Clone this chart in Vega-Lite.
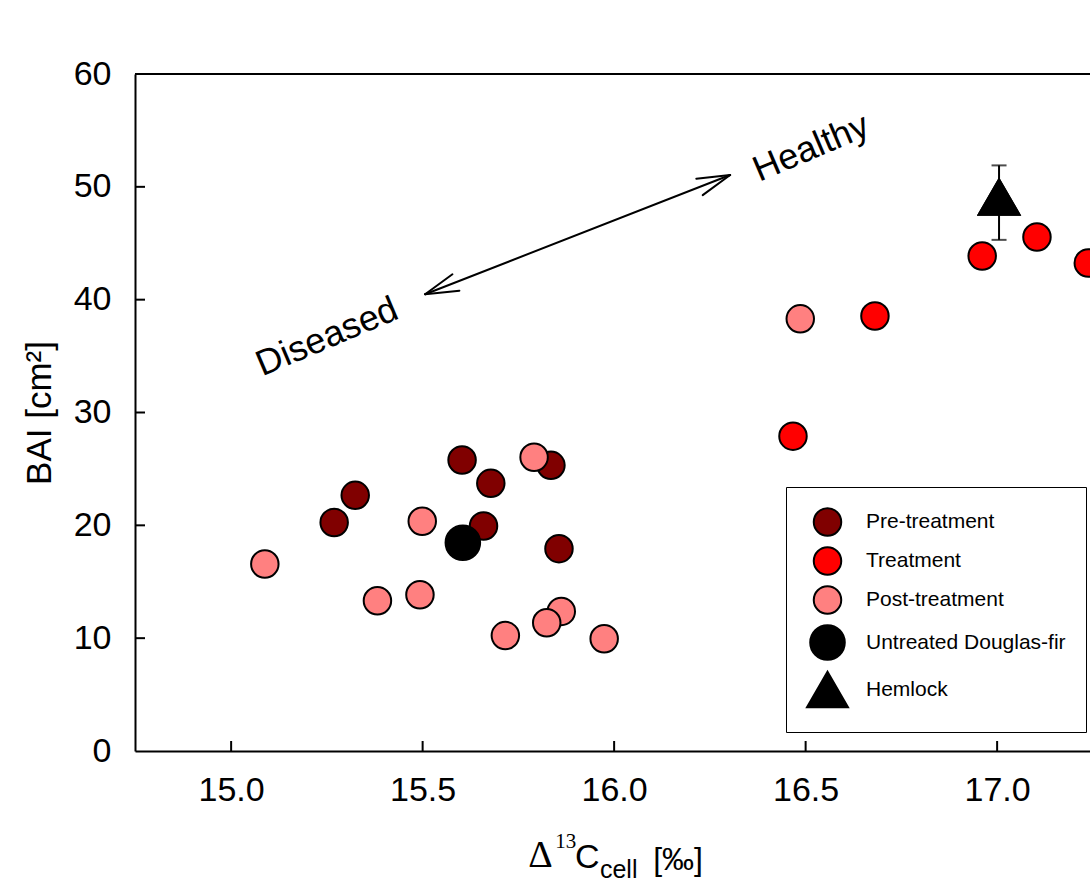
{
  "$schema": "https://vega.github.io/schema/vega-lite/v6.json",
  "autosize": {"type": "none"},
  "padding": {"left": 135, "top": 74, "right": 0, "bottom": 131},
  "width": 955,
  "height": 677,
  "background": "white",
  "config": {
    "view": {"stroke": null},
    "font": "Liberation Sans",
    "axis": {
      "grid": false,
      "ticks": false,
      "domainColor": "black",
      "domainWidth": 2,
      "labelFont": "Liberation Sans",
      "labelFontSize": 34,
      "labelColor": "black",
      "titleFont": "Liberation Sans",
      "titleFontWeight": "normal",
      "titleColor": "black"
    }
  },
  "datasets": {
    "trees": [
      {"group": "Pre-treatment", "x": 15.269, "y": 20.25},
      {"group": "Pre-treatment", "x": 15.324, "y": 22.66},
      {"group": "Pre-treatment", "x": 15.603, "y": 25.79},
      {"group": "Pre-treatment", "x": 15.678, "y": 23.72},
      {"group": "Pre-treatment", "x": 15.659, "y": 19.94},
      {"group": "Pre-treatment", "x": 15.835, "y": 25.32},
      {"group": "Pre-treatment", "x": 15.856, "y": 17.93},
      {"group": "Treatment", "x": 16.467, "y": 27.9},
      {"group": "Treatment", "x": 16.681, "y": 38.55},
      {"group": "Treatment", "x": 16.961, "y": 43.87},
      {"group": "Treatment", "x": 17.104, "y": 45.55},
      {"group": "Treatment", "x": 17.238, "y": 43.25},
      {"group": "Post-treatment", "x": 15.088, "y": 16.57},
      {"group": "Post-treatment", "x": 15.499, "y": 20.36},
      {"group": "Post-treatment", "x": 15.382, "y": 13.32},
      {"group": "Post-treatment", "x": 15.493, "y": 13.85},
      {"group": "Post-treatment", "x": 15.791, "y": 26.03},
      {"group": "Post-treatment", "x": 15.862, "y": 12.37},
      {"group": "Post-treatment", "x": 15.824, "y": 11.37},
      {"group": "Post-treatment", "x": 15.716, "y": 10.23},
      {"group": "Post-treatment", "x": 15.974, "y": 9.95},
      {"group": "Post-treatment", "x": 16.486, "y": 38.3},
      {"group": "Untreated Douglas-fir", "x": 15.605, "y": 18.46},
      {"group": "Hemlock", "x": 17.005, "y": 49.1}
    ],
    "hemlockError": [
      {"x": 17.005, "y": 45.3, "hi": 51.9}
    ],
    "arrow": [
      {"part": "shaft", "x": 15.5065, "y": 40.48, "x2": 16.3029, "y2": 51.05},
      {"part": "head", "x": 15.5065, "y": 40.48, "x2": 15.5778, "y2": 42.25},
      {"part": "head", "x": 15.5065, "y": 40.48, "x2": 15.596, "y2": 40.8},
      {"part": "head", "x": 16.3029, "y": 51.05, "x2": 16.2313, "y2": 49.27},
      {"part": "head", "x": 16.3029, "y": 51.05, "x2": 16.2146, "y2": 50.72}
    ],
    "notes": [
      {"label": "Diseased", "x": 15.2507, "y": 36.69},
      {"label": "Healthy", "x": 16.5144, "y": 53.44}
    ],
    "xTicks": [{"x": 15.0}, {"x": 15.5}, {"x": 16.0}, {"x": 16.5}, {"x": 17.0}],
    "yTicks": [{"y": 10}, {"y": 20}, {"y": 30}, {"y": 40}, {"y": 50}]
  },
  "layer": [
    {
      "data": {"name": "trees"},
      "mark": {"type": "point", "filled": true, "stroke": "black", "strokeWidth": 2, "opacity": 1},
      "encoding": {
        "x": {
          "field": "x", "type": "quantitative",
          "scale": {"domain": [14.749, 17.2425], "nice": false, "zero": false},
          "axis": {"values": [15, 15.5, 16, 16.5, 17], "format": ".1f", "labelPadding": 22, "title": null}
        },
        "y": {
          "field": "y", "type": "quantitative",
          "scale": {"domain": [0, 60], "nice": false, "zero": true},
          "axis": {"values": [0, 10, 20, 30, 40, 50, 60], "labelPadding": 24, "title": "BAI [cm²]", "titleFontSize": 35, "titlePadding": 16}
        },
        "fill": {
          "field": "group", "type": "nominal",
          "scale": {
            "domain": ["Pre-treatment", "Treatment", "Post-treatment", "Untreated Douglas-fir", "Hemlock"],
            "range": ["#800000", "#ff0000", "#ff8080", "#000000", "#000000"]
          },
          "legend": {
            "title": null,
            "orient": "none",
            "legendX": 651,
            "legendY": 413,
            "padding": 20,
            "strokeColor": "black",
            "fillColor": "white",
            "labelFont": "Liberation Sans",
            "labelFontSize": 21,
            "labelColor": "black",
            "labelLimit": 400,
            "labelOffset": 17,
            "rowPadding": 3,
            "symbolStrokeColor": "black",
            "symbolStrokeWidth": 2,
            "symbolOpacity": 1
          }
        },
        "shape": {
          "field": "group", "type": "nominal",
          "scale": {
            "domain": ["Pre-treatment", "Treatment", "Post-treatment", "Untreated Douglas-fir", "Hemlock"],
            "range": ["circle", "circle", "circle", "circle", "triangle-up"]
          },
          "legend": {"title": null}
        },
        "size": {
          "field": "group", "type": "nominal",
          "scale": {
            "type": "ordinal",
            "domain": ["Pre-treatment", "Treatment", "Post-treatment", "Untreated Douglas-fir", "Hemlock"],
            "range": [755, 755, 755, 1195, 1681]
          },
          "legend": {"title": null}
        }
      }
    },
    {
      "data": {"values": [{"y": 60}]},
      "mark": {"type": "rule", "stroke": "black", "strokeWidth": 2},
      "encoding": {
        "y": {"field": "y", "type": "quantitative", "title": "BAI [cm²]"}
      }
    },
    {
      "data": {"name": "xTicks"},
      "mark": {"type": "tick", "orient": "vertical", "size": 10, "thickness": 2, "color": "black", "opacity": 1, "yOffset": -5},
      "encoding": {
        "x": {"field": "x", "type": "quantitative"},
        "y": {"datum": 0, "type": "quantitative", "title": "BAI [cm²]"}
      }
    },
    {
      "data": {"name": "yTicks"},
      "mark": {"type": "tick", "orient": "horizontal", "size": 10, "thickness": 2, "color": "black", "opacity": 1, "xOffset": 5},
      "encoding": {
        "x": {"datum": 14.749, "type": "quantitative"},
        "y": {"field": "y", "type": "quantitative", "title": "BAI [cm²]"}
      }
    },
    {
      "data": {"name": "hemlockError"},
      "mark": {"type": "errorbar", "ticks": {"size": 15, "thickness": 2, "color": "black"}, "rule": {"strokeWidth": 2, "color": "black"}},
      "encoding": {
        "x": {"field": "x", "type": "quantitative"},
        "y": {"field": "y", "type": "quantitative", "title": "BAI [cm²]"},
        "y2": {"field": "hi"}
      }
    },
    {
      "data": {"name": "trees"},
      "transform": [{"filter": "datum.group === 'Hemlock'"}],
      "mark": {"type": "point", "filled": true, "shape": "triangle-up", "size": 1681, "fill": "black", "stroke": "black", "strokeWidth": 2, "opacity": 1},
      "encoding": {
        "x": {"field": "x", "type": "quantitative"},
        "y": {"field": "y", "type": "quantitative", "title": "BAI [cm²]"}
      }
    },
    {
      "data": {"name": "arrow"},
      "mark": {"type": "rule", "stroke": "black", "strokeWidth": 2, "strokeCap": "round"},
      "encoding": {
        "x": {"field": "x", "type": "quantitative"},
        "y": {"field": "y", "type": "quantitative", "title": "BAI [cm²]"},
        "x2": {"field": "x2"},
        "y2": {"field": "y2"}
      }
    },
    {
      "data": {"name": "notes"},
      "mark": {"type": "text", "font": "Liberation Sans", "fontSize": 36, "angle": 337, "align": "center", "baseline": "middle", "color": "black"},
      "encoding": {
        "x": {"field": "x", "type": "quantitative"},
        "y": {"field": "y", "type": "quantitative", "title": "BAI [cm²]"},
        "text": {"field": "label"}
      }
    },
    {
      "data": {"values": [{"t": "Δ", "x": 15.7755, "y": -10.28}]},
      "mark": {"type": "text", "font": "Liberation Serif", "fontSize": 38, "align": "left", "baseline": "alphabetic", "color": "black"},
      "encoding": {
        "x": {"field": "x", "type": "quantitative"},
        "y": {"field": "y", "type": "quantitative", "title": "BAI [cm²]"},
        "text": {"field": "t"}
      }
    },
    {
      "data": {"values": [{"t": "13", "x": 15.846, "y": -8.6}]},
      "mark": {"type": "text", "font": "Liberation Serif", "fontSize": 21, "align": "left", "baseline": "alphabetic", "color": "black"},
      "encoding": {
        "x": {"field": "x", "type": "quantitative"},
        "y": {"field": "y", "type": "quantitative", "title": "BAI [cm²]"},
        "text": {"field": "t"}
      }
    },
    {
      "data": {"values": [{"t": "C", "x": 15.898, "y": -10.37}]},
      "mark": {"type": "text", "font": "Liberation Sans", "fontSize": 34, "align": "left", "baseline": "alphabetic", "color": "black"},
      "encoding": {
        "x": {"field": "x", "type": "quantitative"},
        "y": {"field": "y", "type": "quantitative", "title": "BAI [cm²]"},
        "text": {"field": "t"}
      }
    },
    {
      "data": {"values": [{"t": "cell", "x": 15.963, "y": -11.25}]},
      "mark": {"type": "text", "font": "Liberation Sans", "fontSize": 25, "align": "left", "baseline": "alphabetic", "color": "black"},
      "encoding": {
        "x": {"field": "x", "type": "quantitative"},
        "y": {"field": "y", "type": "quantitative", "title": "BAI [cm²]"},
        "text": {"field": "t"}
      }
    },
    {
      "data": {"values": [{"t": "[‰]", "x": 16.102, "y": -10.55}]},
      "mark": {"type": "text", "font": "Liberation Sans", "fontSize": 32, "align": "left", "baseline": "alphabetic", "color": "black"},
      "encoding": {
        "x": {"field": "x", "type": "quantitative"},
        "y": {"field": "y", "type": "quantitative", "title": "BAI [cm²]"},
        "text": {"field": "t"}
      }
    }
  ]
}
